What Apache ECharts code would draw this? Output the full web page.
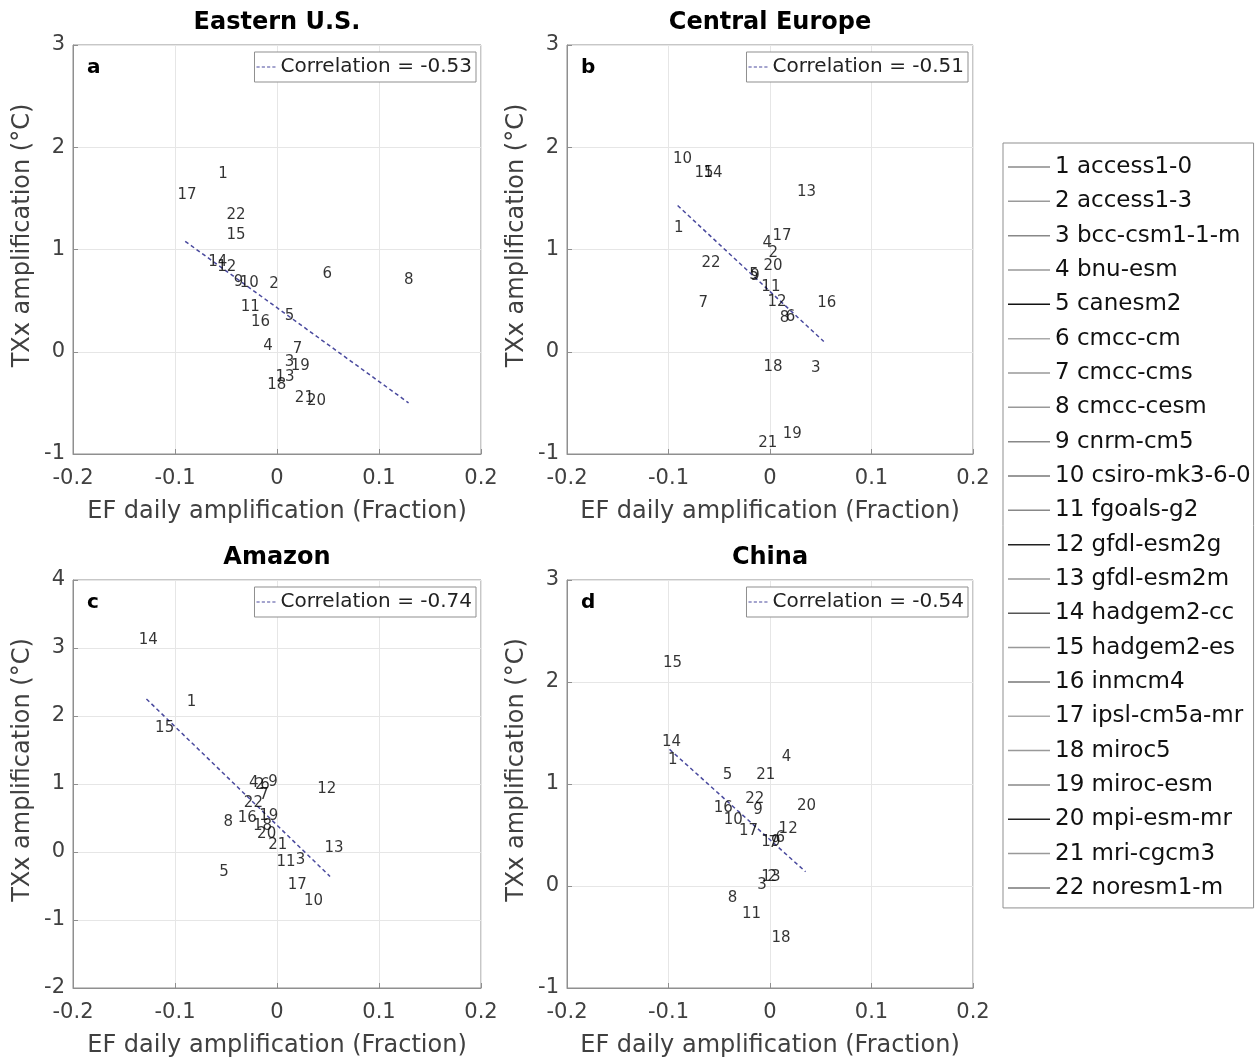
<!DOCTYPE html>
<html><head><meta charset="utf-8">
<script src="https://cdn.jsdelivr.net/npm/echarts@6/dist/echarts.min.js"></script>
<style>html,body{margin:0;padding:0;background:#fff}#c{width:1259px;height:1063px}</style>
</head><body><div id="c"></div><script>
// ---- data ----
const models = ['access1-0','access1-3','bcc-csm1-1-m','bnu-esm','canesm2','cmcc-cm','cmcc-cms','cmcc-cesm','cnrm-cm5','csiro-mk3-6-0','fgoals-g2','gfdl-esm2g','gfdl-esm2m','hadgem2-cc','hadgem2-es','inmcm4','ipsl-cm5a-mr','miroc5','miroc-esm','mpi-esm-mr','mri-cgcm3','noresm1-m'];
const panelTitles = ['Eastern U.S.','Central Europe','Amazon','China'];
const panelLetters = ['a','b','c','d'];
const correlations = ['-0.53','-0.51','-0.74','-0.54'];
const xTickRange = [-0.2, 0.2];
const yRangeEUS = [-1, 3];
const yRangeCEU = [-1, 3];
const yRangeAMZ = [-2, 4];
const yRangeCHN = [-1, 3];

// EF daily amplification (x) and TXx amplification (y), model 1..22
const efEUS = [-0.058,-0.008,0.007,-0.014,0.007,0.044,0.015,0.124,-0.043,-0.037,-0.036,-0.059,-0.002,-0.068,-0.050,-0.026,-0.098,-0.010,0.013,0.029,0.017,-0.050];
const txEUS = [1.74,0.66,-0.10,0.06,0.35,0.76,0.03,0.70,0.68,0.67,0.44,0.83,-0.25,0.88,1.14,0.29,1.53,-0.33,-0.14,-0.48,-0.45,1.34];

const efCEU = [-0.095,-0.002,0.040,-0.008,-0.021,0.015,-0.071,0.009,-0.020,-0.096,-0.009,-0.003,0.026,-0.066,-0.075,0.046,0.002,-0.007,0.012,-0.007,-0.012,-0.068];
const txCEU = [1.21,0.96,-0.16,1.06,0.75,0.34,0.48,0.33,0.74,1.88,0.63,0.49,1.56,1.75,1.75,0.48,1.13,-0.15,-0.81,0.84,-0.89,0.87];

const efAMZ = [-0.089,-0.022,0.018,-0.028,-0.057,-0.017,-0.018,-0.053,-0.009,0.026,-0.001,0.039,0.046,-0.136,-0.120,-0.039,0.010,-0.024,-0.018,-0.020,-0.009,-0.033];
const txAMZ = [2.20,0.99,-0.12,1.01,-0.29,0.99,0.84,0.44,1.03,-0.72,-0.15,0.93,0.06,3.12,1.82,0.50,-0.49,0.38,0.53,0.27,0.10,0.72];

const efCHN = [-0.101,-0.003,-0.013,0.011,-0.047,0.005,-0.002,-0.042,-0.017,-0.046,-0.028,0.008,-0.009,-0.107,-0.106,-0.056,-0.031,0.001,-0.009,0.026,-0.014,-0.025];
const txCHN = [1.23,0.09,0.01,1.26,1.09,0.47,0.42,-0.12,0.74,0.65,-0.28,0.56,0.09,1.41,2.19,0.76,0.54,-0.51,0.43,0.78,1.09,0.85];

// regression lines (end points)
const trendEUSx = [-0.090, 0.129]; const trendEUSy = [1.08, -0.50];
const trendCEUx = [-0.091, 0.053]; const trendCEUy = [1.43, 0.10];
const trendAMZx = [-0.128, 0.052]; const trendAMZy = [2.25, -0.36];
const trendCHNx = [-0.099, 0.035]; const trendCHNy = [1.34, 0.14];

// ---- build ----
const FONT = 'DejaVu Sans';
const efAll = [efEUS, efCEU, efAMZ, efCHN];
const txAll = [txEUS, txCEU, txAMZ, txCHN];
const yRanges = [yRangeEUS, yRangeCEU, yRangeAMZ, yRangeCHN];
const trendX = [trendEUSx, trendCEUx, trendAMZx, trendCHNx];
const trendY = [trendEUSy, trendCEUy, trendAMZy, trendCHNy];

const grids = [
  {left:73, top:45, width:408, height:409},
  {left:567, top:45, width:406, height:409},
  {left:73, top:580, width:408, height:408},
  {left:567, top:580, width:406, height:408}
];
const legendLineColors = ['#8a8a8a','#9a9a9a','#888','#999','#111','#aaa','#999','#999','#888','#777','#888','#222','#999','#555','#999','#777','#aaa','#999','#888','#222','#999','#777'];

const axisColor = '#8f8f8f';
const textColor = '#404040';
const trendColor = '#4a4a9e';

const option = {
  animation: false,
  backgroundColor: '#fff',
  textStyle: {fontFamily: FONT},
  grid: grids.map(g => Object.assign({show:true, borderColor: axisColor, borderWidth:1, backgroundColor:'#fff'}, g)),
  xAxis: grids.map((g,i) => ({
    gridIndex: i, type:'value', min: xTickRange[0], max: xTickRange[1], interval: 0.1,
    name: 'EF daily amplification (Fraction)', nameLocation:'middle', nameGap: 46,
    nameTextStyle: {fontSize: 24, color: textColor, fontFamily: FONT},
    axisLine: {show:true, onZero:false, lineStyle:{color: axisColor}},
    axisTick: {show:true, inside:true, length:5, lineStyle:{color: axisColor}},
    axisLabel: {fontSize: 21, color: textColor, margin: 14, fontFamily: FONT},
    splitLine: {show:true, lineStyle:{color:'#e6e6e6'}}
  })),
  yAxis: grids.map((g,i) => ({
    gridIndex: i, type:'value', min: yRanges[i][0], max: yRanges[i][1], interval: 1,
    name: 'TXx amplification (°C)', nameLocation:'middle', nameGap: 38,
    nameTextStyle: {fontSize: 24, color: textColor, fontFamily: FONT, padding:[0,0,0,28]},
    axisLine: {show:true, onZero:false, lineStyle:{color: axisColor}},
    axisTick: {show:true, inside:true, length:5, lineStyle:{color: axisColor}},
    axisLabel: {fontSize: 21, color: textColor, margin: 8, fontFamily: FONT},
    splitLine: {show:true, lineStyle:{color:'#e6e6e6'}}
  })),
  legend: [],
  graphic: [],
  series: []
};

// panel titles and letters
grids.forEach((g,i) => {
  option.graphic.push({type:'text', x: g.left + g.width/2, y: g.top - 22, silent:true,
    style:{text: panelTitles[i], font: 'bold 24px "DejaVu Sans"', fill:'#000', textAlign:'center', textVerticalAlign:'middle'}});
  option.graphic.push({type:'text', x: g.left + 14, y: g.top + 23, silent:true,
    style:{text: panelLetters[i], font: 'bold 20px "DejaVu Sans"', fill:'#000', textAlign:'left', textVerticalAlign:'middle'}});
});

const dashIcon = 'path://M0 0h3v1h-3z M5 0h3v1h-3z M10 0h3v1h-3z M15 0h3v1h-3z';

// scatter labels and trend lines
grids.forEach((g,i) => {
  const pts = efAll[i].map((x,k) => [x, txAll[i][k], k+1]);
  option.series.push({
    type:'scatter', xAxisIndex:i, yAxisIndex:i, data: pts,
    symbol:'circle', symbolSize: 1, itemStyle:{color:'rgba(0,0,0,0)'},
    label:{show:true, position:'right', distance:0, formatter: p => String(p.value[2]),
      fontSize: 15, color:'#000', fontFamily: FONT},
    silent:true, z: 5
  });
  const name = 'Correlation = ' + correlations[i];
  option.series.push({
    type:'line', name: name, xAxisIndex:i, yAxisIndex:i, color: trendColor,
    data: trendX[i].map((x,k) => [x, trendY[i][k]]),
    symbol:'none', itemStyle:{color: trendColor},
    lineStyle:{color: trendColor, width:1.5, type:[4,3]}, silent:true, z:4
  });
  const rightEdge = g.left + g.width - 5;
  option.legend.push({
    data:[{name: name, icon: dashIcon}], right: 1259 - rightEdge, top: g.top + 7,
    orient:'horizontal', itemWidth: 19, itemHeight: 1.5, itemGap: 0,
    padding:[4,4,4,2], borderColor: axisColor, borderWidth:1, backgroundColor:'#fff',
    textStyle:{fontSize: 20, color:'#222', fontFamily: FONT, lineHeight: 22},
    selectedMode:false
  });
});

// model legend (dummy line series)
const modelNames = models.map((m,k) => (k+1) + ' ' + m);
modelNames.forEach((n,k) => {
  option.series.push({type:'line', name:n, xAxisIndex:0, yAxisIndex:0, data:[], symbol:'none',
    color: legendLineColors[k], itemStyle:{color: legendLineColors[k]},
    lineStyle:{color: legendLineColors[k], width:1.5}});
});
option.legend.push({
  data: modelNames.map(n => ({name:n, icon:'rect'})), orient:'vertical', left: 1003, top: 143,
  itemWidth: 42, itemHeight: 1.5, itemGap: 10.33,
  padding:[12, 3, 8, 5], borderColor: axisColor, borderWidth:1, backgroundColor:'#fff',
  textStyle:{fontSize: 23, color:'#111', fontFamily: FONT, lineHeight: 24},
  selectedMode:false
});

const chart = echarts.init(document.getElementById('c'), null, {renderer:'canvas'});
chart.setOption(option);
</script></body></html>
